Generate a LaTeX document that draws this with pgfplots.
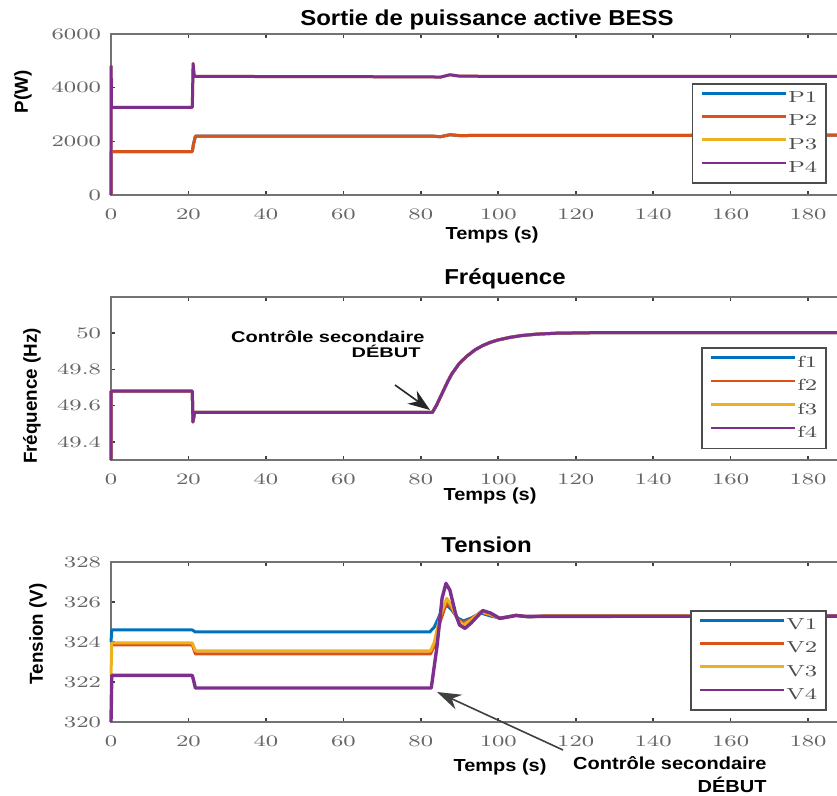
\documentclass[border=0pt]{standalone}
\usepackage{fontspec}
\usepackage{graphicx}
\usepackage{pgfplots}
\usepackage{pgfplotstable}
\pgfplotsset{compat=1.18}
\usetikzlibrary{arrows.meta}
\newfontfamily\arial{Liberation Sans}
\definecolor{mblue}{RGB}{0,114,189}
\definecolor{morange}{RGB}{217,83,25}
\definecolor{myellow}{RGB}{237,177,32}
\definecolor{mpurple}{RGB}{126,47,142}
\newcommand{\A}[2][0.87]{\scalebox{1}[#1]{\arial\bfseries #2}}
\newcommand{\sx}[1]{\scalebox{1.45}[1]{#1}}

\pgfplotstableread{
t p
0 0
0.05 1620
21 1620
21.3 1900
21.8 2190
60 2195
83 2195
85 2170
87.5 2245
90 2215
100 2225
130 2220
160 2230
200 2230
}\Ptwo
\pgfplotstableread{
t p
0 0
0.05 4800
0.1 3270
21 3270
21.2 4900
21.5 4420
60 4410
83 4400
85 4390
87.5 4480
90 4430
100 4420
140 4425
200 4420
}\Pfour
\pgfplotstableread{
t f
0 49.3
0.05 49.68
21 49.68
21.15 49.51
21.6 49.563
83 49.563
84 49.60
85 49.645
86 49.69
87 49.735
88 49.775
90 49.835
92 49.875
94 49.908
96 49.932
98 49.950
100 49.963
103 49.977
106 49.987
110 49.995
115 50.0
125 50.003
200 50.003
}\Freq
\pgfplotstableread{
t v
0 324.0
0.2 324.6
21 324.6
21.8 324.5
82.3 324.5
83.5 324.75
85 325.4
86.7 325.85
88 325.6
89.5 325.2
91 325.05
93 325.2
95.5 325.45
98 325.3
100.5 325.2
104.5 325.33
108 325.25
112 325.3
200 325.3
}\Vone
\pgfplotstableread{
t v
0 323.85
21 323.85
21.8 323.4
82.5 323.4
83.5 323.8
85 325.0
86.7 326.0
88 325.7
89.5 325.15
91 324.95
93 325.15
95.5 325.5
98 325.35
100.5 325.18
104.5 325.33
108 325.26
112 325.3
200 325.3
}\Vtwo
\pgfplotstableread{
t v
0 322.3
0.2 323.95
21 323.95
21.8 323.55
82.5 323.55
83.5 324.0
85 325.3
86.7 326.18
88 325.8
89.5 325.1
91 324.85
93 325.1
95.5 325.52
98 325.38
100.5 325.17
104.5 325.33
108 325.26
112 325.3
200 325.3
}\Vthree
\pgfplotstableread{
t v
0 320
0.2 322.33
21 322.33
21.8 321.7
82.7 321.7
84.2 323.8
85.5 326.2
86.5 326.93
87.5 326.6
89 325.4
90 324.85
91.4 324.68
93 324.95
96 325.57
98 325.45
100.4 325.18
102.5 325.25
104.7 325.33
107 325.28
200 325.3
}\Vfour

\pgfplotsset{
  base/.style={
    scale only axis, width=387.25pt, anchor=north west,
    xmin=0, xmax=200, xtick={0,20,...,180},
    axis line style={black!55,line width=1.1pt},
    tick align=inside, major tick length=2.2pt,
    tick style={black!75,line width=0.8pt},
    ticklabel style={font=\fontsize{8}{9}\selectfont, text=black!60},
    /pgf/number format/1000 sep={},
    scaled ticks=false,
    xticklabel={\sx{$\pgfmathprintnumber{\tick}$}},
    yticklabel={\sx{$\pgfmathprintnumber{\tick}$}},
    xticklabel style={yshift=-3.5pt},
    yticklabel style={xshift=-1.5pt},
    clip=false,
    legend cell align=left,
    legend image code/.code={\draw[##1,line width=1.3pt] (0pt,2.7pt) -- (42pt,2.7pt);},
    legend style={anchor=north east, draw=black!70, line width=0.9pt, fill=white,
      inner xsep=4pt, inner ysep=3.5pt, row sep=3.6pt,
      font=\fontsize{8}{9}\selectfont, text=black!70,
      nodes={inner sep=0.5pt},
      /tikz/every even column/.append style={column sep=2pt}},
    every axis plot/.append style={line width=1.5pt, line join=round},
  }
}

\begin{document}
\begin{tikzpicture}
% ---------- Plot 1 ----------
\begin{axis}[base, at={(55.5pt,-17pt)}, height=80.5pt,
  ymin=0, ymax=6000, ytick={0,2000,4000,6000},
  legend style={at={(0.9245,0.6957)}},
  legend entries={\sx{P1},\sx{P2},\sx{P3},\sx{P4}}]
\addplot[mblue] table[x=t,y=p] {\Ptwo};
\addplot[morange] table[x=t,y=p] {\Ptwo};
\addplot[myellow] table[x=t,y=p] {\Pfour};
\addplot[mpurple] table[x=t,y=p] {\Pfour};
\end{axis}
% ---------- Plot 2 ----------
\begin{axis}[base, at={(55.5pt,-148.5pt)}, height=81.5pt,
  ymin=49.3, ymax=50.2, ytick={49.4,49.6,49.8,50},
  legend style={at={(0.9245,0.693)}},
  legend entries={\sx{f1},\sx{f2},\sx{f3},\sx{f4}}]
\addplot[mblue] table[x=t,y=f] {\Freq};
\addplot[morange] table[x=t,y=f] {\Freq};
\addplot[myellow] table[x=t,y=f] {\Freq};
\addplot[mpurple] table[x=t,y=f] {\Freq};
\end{axis}
% ---------- Plot 3 ----------
\begin{axis}[base, at={(55.5pt,-281pt)}, height=80pt,
  ymin=320, ymax=328, ytick={320,322,...,328},
  legend style={at={(0.9245,0.70)}},
  legend entries={\sx{V1},\sx{V2},\sx{V3},\sx{V4}}]
\addplot[mblue] table[x=t,y=v] {\Vone};
\addplot[morange] table[x=t,y=v] {\Vtwo};
\addplot[myellow] table[x=t,y=v] {\Vthree};
\addplot[mpurple, line width=1.7pt] table[x=t,y=v] {\Vfour};
\end{axis}

% titles
\node[anchor=base, font=\fontsize{12}{14}\selectfont, inner sep=0pt] at (243.5pt,-13pt) {\A[0.9]{Sortie de puissance active BESS}};
\node[anchor=base, font=\fontsize{12}{14}\selectfont, inner sep=0pt] at (252.5pt,-142.5pt) {\A[0.9]{Fréquence}};
\node[anchor=base, font=\fontsize{12}{14}\selectfont, inner sep=0pt] at (243.3pt,-276.5pt) {\A[0.9]{Tension}};
% x labels
\node[font=\fontsize{10}{12}\selectfont, inner sep=0pt] at (246pt,-117.5pt) {\A{Temps (s)}};
\node[font=\fontsize{10}{12}\selectfont, inner sep=0pt] at (245pt,-248pt) {\A{Temps (s)}};
\node[font=\fontsize{10}{12}\selectfont, inner sep=0pt] at (250pt,-383.5pt) {\A{Temps (s)}};
% y labels
\node[rotate=90, font=\fontsize{9.4}{11}\selectfont, inner sep=0pt] at (11.5pt,-46pt) {\arial\bfseries P(W)};
\node[rotate=90, font=\fontsize{9.4}{11}\selectfont, inner sep=0pt] at (16pt,-198pt) {\arial\bfseries Fréquence (Hz)};
\node[rotate=90, font=\fontsize{9.4}{11}\selectfont, inner sep=0pt] at (19pt,-317pt) {\arial\bfseries Tension (V)};
% annotation plot 2
\node[anchor=base east, font=\fontsize{10}{12}\selectfont, inner sep=0pt] at (212.5pt,-171.5pt) {\A[0.78]{Contrôle secondaire}};
\node[anchor=base east, font=\fontsize{10}{12}\selectfont, inner sep=0pt] at (210.5pt,-179pt) {\A[0.7]{DÉBUT}};
\draw[black!85, line width=0.8pt, -{Stealth[length=11pt,width=8pt]}] (197.5pt,-192.5pt) -- (215pt,-205pt);
% annotation plot 3
\node[anchor=base east, font=\fontsize{10}{12}\selectfont, inner sep=0pt] at (383.5pt,-385pt) {\A{Contrôle secondaire}};
\node[anchor=base east, font=\fontsize{10}{12}\selectfont, inner sep=0pt] at (383.5pt,-396.5pt) {\A{DÉBUT}};
\draw[black!75, line width=0.8pt, -{Stealth[length=12pt,width=8pt]}] (281.5pt,-375pt) -- (218.5pt,-346pt);

\pgfresetboundingbox
\path[use as bounding box] (0,0) rectangle (418.5pt,-398pt);
\end{tikzpicture}
\end{document}
